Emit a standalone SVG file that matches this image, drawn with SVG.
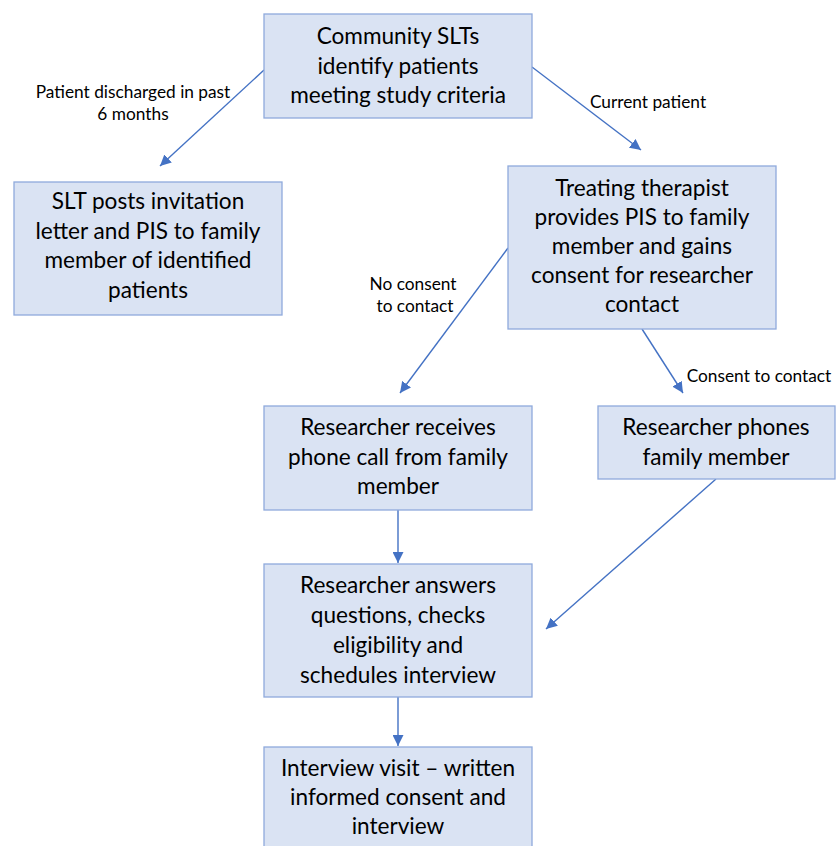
<svg xmlns="http://www.w3.org/2000/svg" width="836" height="846" viewBox="0 0 836 846">
<defs>
<style>
.box{fill:#DAE3F3;stroke:#8FAADC;stroke-width:1.3}
.t{font-family:Lato,"Liberation Sans",sans-serif;font-size:22.6px;fill:#000;text-anchor:middle}
.l{font-family:Lato,"Liberation Sans",sans-serif;font-size:17.3px;fill:#000;text-anchor:middle}
.c{stroke:#4472C4;stroke-width:1.4;fill:none;marker-end:url(#ah)}
</style>
<marker id="ah" viewBox="0 0 10 10" refX="10" refY="5" markerWidth="11" markerHeight="11" markerUnits="userSpaceOnUse" orient="auto">
<path d="M0,0 L10,5 L0,10 z" fill="#4472C4"/>
</marker>
</defs>
<rect width="836" height="846" fill="#fff"/>
<g id="connectors">
<line class="c" x1="264" y1="70" x2="160" y2="166"/>
<line class="c" x1="532" y1="67" x2="641" y2="150"/>
<line class="c" x1="508" y1="248" x2="400" y2="393"/>
<line class="c" x1="642" y1="329" x2="683" y2="393"/>
<line class="c" x1="398" y1="510" x2="398" y2="563"/>
<line class="c" x1="716" y1="479" x2="546" y2="629"/>
<line class="c" x1="398" y1="697" x2="398" y2="746"/>
<text class="l" x="133" y="98">Patient discharged in past</text>
<text class="l" x="133" y="120">6 months</text>
<text class="l" x="648" y="108">Current patient</text>
<text class="l" x="413" y="290">No consent</text>
<text class="l" x="415" y="312">to contact</text>
<text class="l" x="759" y="382">Consent to contact</text>
</g>
<g id="n1">
<rect class="box" x="264" y="14" width="268" height="104"/>
<text class="t" x="398" y="44">Community SLTs</text>
<text class="t" x="398" y="74">identify patients</text>
<text class="t" x="398" y="103">meeting study criteria</text>
</g>
<g id="n2">
<rect class="box" x="14" y="182" width="268" height="133"/>
<text class="t" x="148" y="209">SLT posts invitation</text>
<text class="t" x="148" y="239">letter and PIS to family</text>
<text class="t" x="148" y="268">member of identified</text>
<text class="t" x="148" y="298">patients</text>
</g>
<g id="n3">
<rect class="box" x="508" y="166" width="268" height="163"/>
<text class="t" x="642" y="196">Treating therapist</text>
<text class="t" x="642" y="225">provides PIS to family</text>
<text class="t" x="642" y="254">member and gains</text>
<text class="t" x="642" y="283">consent for researcher</text>
<text class="t" x="642" y="312">contact</text>
</g>
<g id="n4">
<rect class="box" x="264" y="406" width="268" height="104"/>
<text class="t" x="398" y="435">Researcher receives</text>
<text class="t" x="398" y="465">phone call from family</text>
<text class="t" x="398" y="494">member</text>
</g>
<g id="n5">
<rect class="box" x="598" y="406" width="237" height="73"/>
<text class="t" x="716" y="435">Researcher phones</text>
<text class="t" x="716" y="465">family member</text>
</g>
<g id="n6">
<rect class="box" x="264" y="564" width="268" height="133"/>
<text class="t" x="398" y="593">Researcher answers</text>
<text class="t" x="398" y="623">questions, checks</text>
<text class="t" x="398" y="653">eligibility and</text>
<text class="t" x="398" y="683">schedules interview</text>
</g>
<g id="n7">
<rect class="box" x="264" y="747" width="268" height="110"/>
<text class="t" x="398" y="776">Interview visit – written</text>
<text class="t" x="398" y="805">informed consent and</text>
<text class="t" x="398" y="834">interview</text>
</g>
</svg>
